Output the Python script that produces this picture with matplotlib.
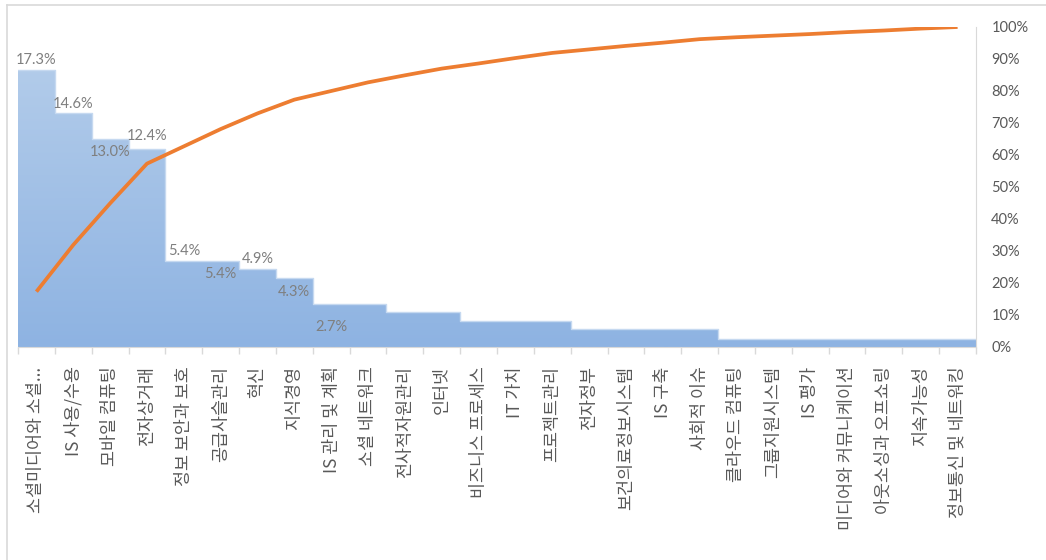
import numpy as np
import matplotlib
matplotlib.use("Agg")
import matplotlib.pyplot as plt
from matplotlib.colors import LinearSegmentedColormap
from matplotlib.lines import Line2D
from matplotlib.ticker import FuncFormatter

# ---------------- data ----------------
categories = [
    "소셜미디어와 소셜...", "IS 사용/수용", "모바일 컴퓨팅", "전자상거래",
    "정보 보안과 보호", "공급사슬관리", "혁신", "지식경영", "IS 관리 및 계획",
    "소셜 네트워크", "전사적자원관리", "인터넷", "비즈니스 프로세스", "IT 가치",
    "프로젝트관리", "전자정부", "보건의료정보시스템", "IS 구축", "사회적 이슈",
    "클라우드 컴퓨팅", "그룹지원시스템", "IS 평가", "미디어와 커뮤니케이션",
    "아웃소싱과 오프쇼링", "지속가능성", "정보통신 및 네트워킹",
]
share_pct = [17.3, 14.6, 13.0, 12.4, 5.4, 5.4, 4.9, 4.3, 2.7, 2.7, 2.2, 2.2,
             1.6, 1.6, 1.6, 1.1, 1.1, 1.1, 1.1, 0.5, 0.5, 0.5, 0.5, 0.5, 0.5, 0.5]
cumulative_pct = [17.3, 31.9, 44.9, 57.3, 62.7, 68.1, 73.0, 77.3, 80.0, 82.7,
                  84.9, 87.0, 88.6, 90.3, 91.9, 93.0, 94.1, 95.1, 96.2, 96.8,
                  97.3, 97.8, 98.4, 98.9, 99.5, 100.0]
labeled_bars = 9                      # only the first nine bars carry a value label
right_ticks = [0, 10, 20, 30, 40, 50, 60, 70, 80, 90, 100]

# ---------------- style ----------------
W, H = 1046, 560
label_offsets_pt = [7, 7, -9, 9, 7, -10, 7, -10, -17]   # label placement vs bar top
grey_txt = "#595959"
grey_line = "#D9D9D9"
orange = "#ED7D31"

plt.rcParams['font.family'] = ['Lato', 'DejaVu Sans']

fig = plt.figure(figsize=(W / 100, H / 100), dpi=100)
ax = fig.add_axes([18 / W, 1 - 347 / H, (976 - 18) / W, (347 - 27) / H])
ax2 = ax.twinx()

n = len(categories)
x = np.arange(n)

# bars (gradient fill clipped to each bar)
bars = ax.bar(x, share_pct, width=1.0, color="none", edgecolor="none", zorder=2)
cmap = LinearSegmentedColormap.from_list("g", ["#8EB3E2", "#B7CFEB"])
grad = np.linspace(0, 1, 256).reshape(-1, 1)
for b in bars:
    im = ax.imshow(grad, extent=[-0.5, n - 0.5, 0, 20], origin="lower",
                   cmap=cmap, aspect="auto", zorder=1, interpolation="bilinear")
    im.set_clip_path(b)
# faint light edge along bar tops
ax.step(np.r_[x - 0.5, n - 0.5], np.r_[share_pct, share_pct[-1]], where="post",
        color="#C6D9F0", lw=1.0, zorder=3)

ax.set_xlim(-0.5, n - 0.5)
ax.set_ylim(0, 20)
ax.set_yticks([])
for s in ("left", "top", "right"):
    ax.spines[s].set_visible(False)
ax.spines["bottom"].set_color(grey_line)
ax.spines["bottom"].set_zorder(4)

ax.set_xticks(x)
ax.set_xticklabels(categories, rotation=90, fontsize=12.5,
                   family=['Noto Sans CJK KR', 'DejaVu Sans'], color=grey_txt)
ax.tick_params(axis="x", which="major", length=0, pad=14)
ax.set_xticks(np.arange(n + 1) - 0.5, minor=True)
ax.tick_params(axis="x", which="minor", length=5, color=grey_line, width=1)

# value labels
for i in range(labeled_bars):
    off = label_offsets_pt[i]
    ax.annotate(f"{share_pct[i]:.1f}%", (x[i], share_pct[i]), xytext=(0, off),
                textcoords="offset points", ha="center", va="center",
                fontsize=10.5, color="#7F7F7F", zorder=5)

# cumulative line
ax2.plot(x, cumulative_pct, color=orange, lw=2.7, solid_capstyle="butt",
         solid_joinstyle="round", zorder=6)
ax2.set_ylim(0, 100)
ax2.set_yticks(right_ticks)
ax2.yaxis.set_major_formatter(FuncFormatter(lambda v, p: f"{int(v)}%"))
ax2.tick_params(axis="y", length=0, pad=11, labelsize=10.5, labelcolor=grey_txt)
for s in ("left", "top", "bottom"):
    ax2.spines[s].set_visible(False)
ax2.spines["right"].set_color(grey_line)
ax2.set_xlim(-0.5, n - 0.5)

# chart-area border (left and top visible)
fig.add_artist(Line2D([7 / W, 7 / W], [0, 1 - 5 / H], color=grey_line, lw=1.2))
fig.add_artist(Line2D([7 / W, 1], [1 - 5 / H, 1 - 5 / H], color=grey_line, lw=1.2))

fig.savefig("out.png", dpi=100)
